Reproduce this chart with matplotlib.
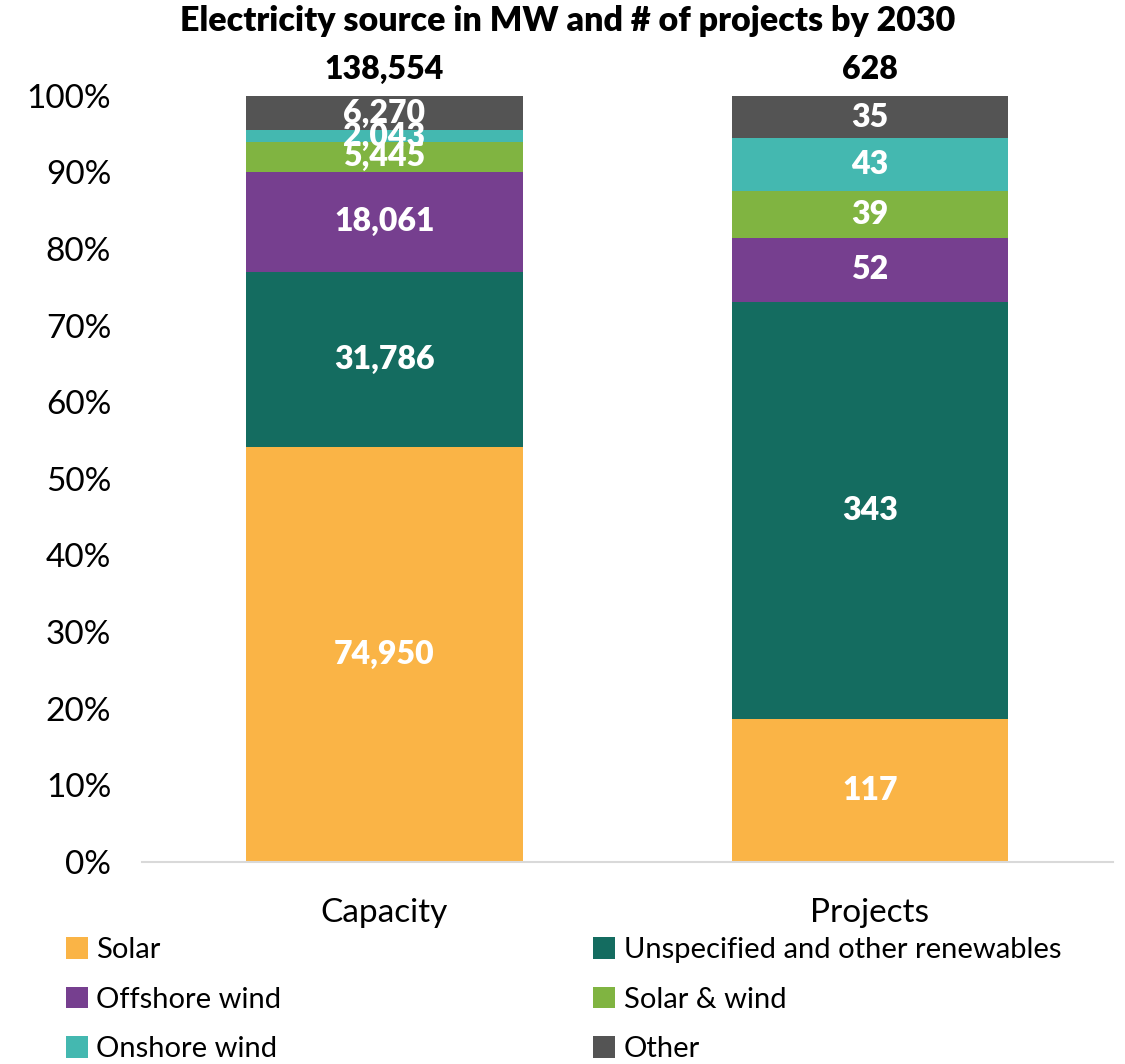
import matplotlib.pyplot as plt
import numpy as np

# Electricity source by 2030: capacity (MW) and number of projects
categories = ['Capacity', 'Projects']
sources = ['Solar', 'Unspecified and other renewables', 'Offshore wind',
           'Solar & wind', 'Onshore wind', 'Other']
capacity_mw = [74950, 31786, 18061, 5445, 2043, 6270]
project_count = [117, 343, 52, 39, 43, 35]
totals = ['138,554', '628']
colors = ['#FAB446', '#146C60', '#763F8F', '#80B441', '#44B8B0', '#545454']

plt.rcParams['font.family'] = ['Lato', 'DejaVu Sans']

data = np.array([capacity_mw, project_count], dtype=float)
shares = data / data.sum(axis=1, keepdims=True) * 100

fig = plt.figure(figsize=(11.25, 10.64), dpi=100)
ax = fig.add_axes([0.126, 0.19, 0.863, 0.72])

x = np.arange(len(categories))
bottom = np.zeros(len(categories))
handles = []
for i, src in enumerate(sources):
    bars = ax.bar(x, shares[:, i], 0.57, bottom=bottom, color=colors[i],
                  label=src, zorder=2)
    handles.append(bars)
    for j in range(len(categories)):
        ax.text(x[j], bottom[j] + shares[j, i] / 2, f'{int(data[j, i]):,}',
                ha='center', va='center', color='white', fontsize=23,
                fontweight='heavy', zorder=3)
    bottom += shares[:, i]

for j, t in enumerate(totals):
    ax.text(x[j], 101.6, t, ha='center', va='bottom', color='black',
            fontsize=23, fontweight='heavy')

ax.set_xlim(-0.5, 1.5)
ax.set_ylim(0, 100)
ax.set_yticks(np.arange(0, 101, 10))
ax.set_yticklabels([f'{v}%' for v in range(0, 101, 10)], fontsize=24)
ax.set_xticks(x)
ax.set_xticklabels(categories, fontsize=24)
ax.tick_params(axis='both', length=0)
ax.tick_params(axis='y', pad=22)
ax.tick_params(axis='x', pad=26)
for s in ['top', 'right', 'left']:
    ax.spines[s].set_visible(False)
ax.spines['bottom'].set_color('#D9D9D9')
ax.spines['bottom'].set_linewidth(1.5)

fig.suptitle('Electricity source in MW and # of projects by 2030',
             fontsize=24.5, fontweight='heavy', x=0.505, y=0.995)

order = [0, 2, 4, 1, 3, 5]
fig.legend([handles[k] for k in order], [sources[k] for k in order],
           ncol=2, loc='upper left', bbox_to_anchor=(0.048, 0.13),
           frameon=False, fontsize=21, handlelength=0.75, handleheight=0.75,
           handletextpad=0.3, columnspacing=10.7, labelspacing=0.8,
           borderaxespad=0)

fig.savefig('out.png', dpi=100)
